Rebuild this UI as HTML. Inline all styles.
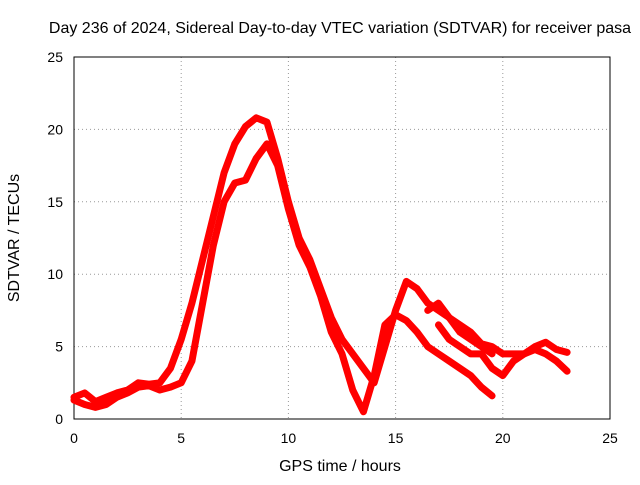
<!DOCTYPE html>
<html><head><meta charset="utf-8"><style>
body{margin:0;background:#fff}
svg text{font-family:"Liberation Sans",sans-serif;font-size:14px;fill:#000}
svg text.big{font-size:16px}
</style></head><body>
<svg id="c" width="640" height="480">
<rect width="640" height="480" fill="#fff"/>
<g id="grid"></g>
<rect x="74" y="57" width="536" height="362" fill="none" stroke="#000"/>
<g id="ticks"></g>
<g id="series"></g>
<text class="big" x="340" y="33" text-anchor="middle">Day 236 of 2024, Sidereal Day-to-day VTEC variation (SDTVAR) for receiver pasa</text>
<text class="big" x="340" y="471" text-anchor="middle">GPS time / hours</text>
<text class="big" transform="translate(19,238) rotate(-90)" text-anchor="middle">SDTVAR / TECUs</text>
</svg>
<script>
const xTicks=[0,5,10,15,20,25];
const yTicks=[0,5,10,15,20,25];
const tA=[0,0.5,1,1.5,2,2.5,3,3.5,4,4.5,5,5.5,6,6.5,7,7.5,8,8.5,9,9.5,10,10.5,11,11.5,12,12.5,13,13.5,14,14.5,15,15.5,16,16.5,17,17.5,18,18.5,19,19.5];
const vA=[1.5,1.8,1.2,1.5,1.8,2.0,2.5,2.4,2.5,3.5,5.5,8,11,14,17,19,20.2,20.8,20.5,18,15,12.5,11,9,7,5.5,4.5,3.5,2.5,5,7.5,9.5,9,8,7.5,7,6,5.5,5,4.5];
const tB=[0,0.5,1,1.5,2,2.5,3,3.5,4,4.5,5,5.5,6,6.5,7,7.5,8,8.5,9,9.5,10,10.5,11,11.5,12,12.5,13,13.5,14,14.5,15,15.5,16,16.5,17,17.5,18,18.5,19,19.5];
const vB=[1.3,1.0,0.8,1.0,1.5,1.8,2.2,2.3,2.0,2.2,2.5,4,8,12,15,16.3,16.5,18,19,17.5,14.5,12,10.5,8.5,6,4.5,2,0.5,3,6.5,7.2,6.8,6,5,4.5,4,3.5,3,2.2,1.6];
const tC=[17,17.5,18,18.5,19,19.5,20,20.5,21,21.5,22,22.5,23];
const vC=[6.5,5.5,5,4.5,4.5,3.5,3,4,4.5,4.8,4.5,4,3.3];
const tD=[16.5,17,17.5,18,18.5,19,19.5,20,20.5,21,21.5,22,22.5,23];
const vD=[7.5,8,7,6.5,6,5.2,5,4.5,4.5,4.5,5,5.3,4.8,4.6];
const X=v=>74+v*536/25, Y=v=>419-v*362/25;
const ns="http://www.w3.org/2000/svg";
const grid=document.getElementById('grid'),tk=document.getElementById('ticks'),sr=document.getElementById('series');
function mk(tag,attrs,parent){const e=document.createElementNS(ns,tag);for(const k in attrs)e.setAttribute(k,attrs[k]);parent.appendChild(e);return e;}
xTicks.forEach(v=>{
  if(v>0&&v<25){const g=mk('line',{x1:X(v),x2:X(v),y1:57,y2:419,stroke:'#999','stroke-dasharray':'1,3'},grid);
  
  }
  const t=mk('text',{x:X(v),y:443,'text-anchor':'middle'},tk);t.textContent=v;
  
  
});
yTicks.forEach(v=>{
  if(v>0&&v<25){const g=mk('line',{x1:74,x2:610,y1:Y(v),y2:Y(v),stroke:'#999','stroke-dasharray':'1,3'},grid);
  
  }
  const t=mk('text',{x:63,y:Y(v)+5,'text-anchor':'end'},tk);t.textContent=v;
  
  
});
[[tA,vA],[tB,vB],[tC,vC],[tD,vD]].forEach(([t,v],i)=>{
  const pts=t.map((x,j)=>X(x)+','+Y(v[j])).join(' ');
  const p=mk('polyline',{points:pts,fill:'none',stroke:'#ff0000','stroke-width':7,'stroke-linejoin':'round','stroke-linecap':'round'},sr);
  
  
});
</script>
</body></html>
